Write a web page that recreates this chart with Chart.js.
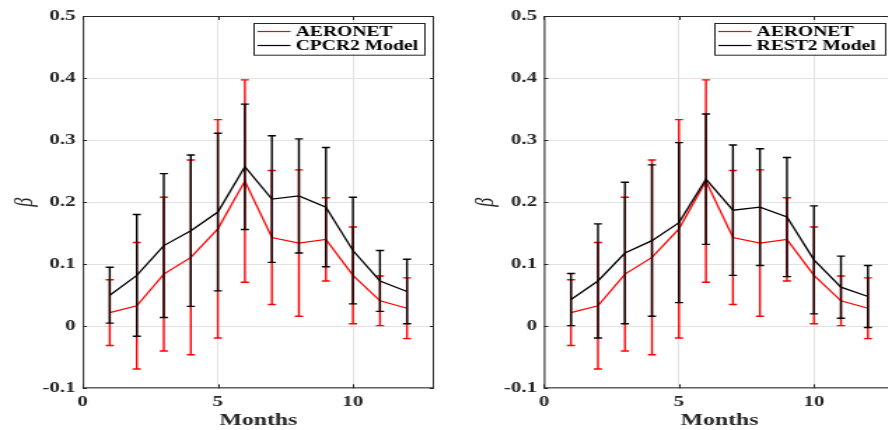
<!DOCTYPE html>
<html>
<head>
<meta charset="utf-8">
<script src="https://cdn.jsdelivr.net/npm/chart.js@4.4.1/dist/chart.umd.min.js"></script>
<style>
  html, body { margin:0; padding:0; width:888px; height:430px; overflow:hidden; background:#fff; }
  .wrap { position:absolute; top:0; height:430px; overflow:hidden; }
  canvas { position:absolute; left:0; top:0; transform-origin:0 0; }
</style>
</head>
<body>
<div class="wrap" style="left:0;width:444px;"><canvas id="c1" width="317" height="430"></canvas></div>
<div class="wrap" style="left:444px;width:444px;"><canvas id="c2" width="330" height="430"></canvas></div>
<script>
// ---- data ----
const months = [1, 2, 3, 4, 5, 6, 7, 8, 9, 10, 11, 12];
const aeronet    = [0.022, 0.033, 0.084, 0.111, 0.157, 0.234, 0.143, 0.134, 0.140, 0.082, 0.041, 0.029];
const aeronetErr = [0.053, 0.102, 0.124, 0.157, 0.176, 0.163, 0.108, 0.118, 0.067, 0.078, 0.040, 0.049];
const cpcr2      = [0.050, 0.082, 0.130, 0.154, 0.184, 0.257, 0.205, 0.210, 0.192, 0.122, 0.073, 0.056];
const cpcr2Err   = [0.045, 0.098, 0.116, 0.122, 0.127, 0.101, 0.102, 0.092, 0.096, 0.086, 0.049, 0.052];
const rest2      = [0.043, 0.073, 0.118, 0.138, 0.167, 0.237, 0.187, 0.192, 0.176, 0.107, 0.063, 0.048];
const rest2Err   = [0.042, 0.092, 0.114, 0.122, 0.129, 0.105, 0.105, 0.094, 0.096, 0.087, 0.050, 0.050];
const xTicks = [0, 5, 10];
const yTicks = [-0.1, 0, 0.1, 0.2, 0.3, 0.4, 0.5];
const xTitle = 'Months';
const yTitle = 'β';
const seriesNames = ['AERONET', 'CPCR2 Model', 'REST2 Model'];

const STRETCH = 1.4;
const FONT = "'Liberation Serif', 'Times New Roman', serif";
const INK = '#262626';
const RED = '#ff0000';
const BLACK = '#000000';

const framePlugin = {
  id: 'frame',
  beforeDatasetDraw(chart, args) {
    const ds = chart.data.datasets[args.index];
    if (!ds.errors) return;
    const xs = chart.scales.x, ys = chart.scales.y, ctx = chart.ctx;
    const cap = 2.9;
    ctx.save();
    ctx.strokeStyle = ds.lineColor;
    ctx.lineWidth = 1.4;
    ds.data.forEach((p, i) => {
      const px = xs.getPixelForValue(p.x);
      const t = ys.getPixelForValue(p.y + ds.errors[i]);
      const b = ys.getPixelForValue(p.y - ds.errors[i]);
      ctx.beginPath();
      ctx.moveTo(px, t); ctx.lineTo(px, b);
      ctx.moveTo(px - cap, t); ctx.lineTo(px + cap, t);
      ctx.moveTo(px - cap, b); ctx.lineTo(px + cap, b);
      ctx.stroke();
    });
    ctx.restore();
  },
  afterDraw(chart) {
    const {ctx, chartArea: a} = chart;
    const xs = chart.scales.x, ys = chart.scales.y;
    ctx.save();
    ctx.strokeStyle = INK;
    ctx.lineWidth = 1;
    ctx.strokeRect(a.left + 0.5, a.top + 0.5, a.right - a.left - 1, a.bottom - a.top - 1);
    ctx.beginPath();
    xTicks.forEach(v => {
      const px = Math.round(xs.getPixelForValue(v)) + 0.5;
      ctx.moveTo(px, a.bottom); ctx.lineTo(px, a.bottom - 4);
      ctx.moveTo(px, a.top); ctx.lineTo(px, a.top + 4);
    });
    yTicks.forEach(v => {
      const py = Math.round(ys.getPixelForValue(v)) + 0.5;
      ctx.moveTo(a.left, py); ctx.lineTo(a.left + 3, py);
      ctx.moveTo(a.right, py); ctx.lineTo(a.right - 3, py);
    });
    ctx.stroke();

    // legend
    const w = 122, h = 31.7;
    const bx = a.right - 7.5 - w, by = a.top + 6.6;
    ctx.fillStyle = '#fff';
    ctx.fillRect(bx, by, w, h);
    ctx.strokeStyle = INK;
    ctx.lineWidth = 1;
    ctx.strokeRect(Math.round(bx) + 0.5, Math.round(by) + 0.5, w, h);
    ctx.font = "bold 14px " + FONT;
    ctx.textBaseline = 'middle';
    ctx.textAlign = 'left';
    chart.data.datasets.forEach((ds, i) => {
      const yy = Math.round(by + 8.7 + i * 14) + 0.5;
      ctx.beginPath();
      ctx.strokeStyle = ds.lineColor;
      ctx.lineWidth = 1.2;
      ctx.moveTo(bx + 3.4, yy);
      ctx.lineTo(bx + 27, yy);
      ctx.stroke();
      ctx.fillStyle = '#000';
      ctx.fillText(ds.label, bx + 30.7, yy + 0.5);
    });
    ctx.restore();
  }
};

function makeChart(id, modelName, model, modelErr, yAxisWidth, padRight, yTitlePad) {
  const cv = document.getElementById(id);
  cv.style.transform = 'scaleX(' + STRETCH + ')';
  const pts = arr => months.map((m, i) => ({x: m, y: arr[i]}));
  return new Chart(cv, {
    type: 'line',
    data: {
      datasets: [
        {label: seriesNames[0], data: pts(aeronet), errors: aeronetErr, lineColor: RED, borderColor: RED,
         borderWidth: 1.3, pointRadius: 0, fill: false, tension: 0, order: 1},
        {label: modelName, data: pts(model), errors: modelErr, lineColor: BLACK, borderColor: BLACK,
         borderWidth: 1.3, pointRadius: 0, fill: false, tension: 0, order: 0}
      ]
    },
    options: {
      responsive: false,
      animation: false,
      layout: {padding: {left: 0, right: padRight, top: 16, bottom: 0}},
      plugins: {legend: {display: false}, tooltip: {enabled: false}},
      scales: {
        x: {
          type: 'linear', min: 0, max: 13,
          afterBuildTicks: s => { s.ticks = xTicks.map(v => ({value: v})); },
          afterFit: s => { s.height = 41.7; },
          grid: {color: '#e2e2e2', drawTicks: false},
          border: {display: false},
          ticks: {padding: 5, maxRotation: 0, color: INK,
                  font: {family: FONT, weight: 'bold', size: 15},
                  callback: v => String(v)},
          title: {display: true, text: xTitle, color: INK,
                  font: {family: FONT, weight: 'bold', size: 17, lineHeight: 1},
                  padding: {top: 0, bottom: 1}}
        },
        y: {
          type: 'linear', min: -0.1, max: 0.5,
          afterBuildTicks: s => { s.ticks = yTicks.map(v => ({value: v})); },
          afterFit: s => { s.width = yAxisWidth; },
          grid: {color: '#e2e2e2', drawTicks: false},
          border: {display: false},
          ticks: {padding: 5, color: INK,
                  font: {family: FONT, weight: 'bold', size: 15},
                  callback: v => String(Math.round(v * 10) / 10)},
          title: {display: true, text: yTitle, color: INK,
                  font: {family: FONT, style: 'italic', size: 18, lineHeight: 1},
                  padding: {top: yTitlePad, bottom: 0}}
        }
      }
    },
    plugins: [framePlugin]
  });
}

makeChart('c1', seriesNames[1], cpcr2, cpcr2Err, 59.1, 7, 9.5);
makeChart('c2', seriesNames[2], rest2, rest2Err, 71.4, 7.9, 21.7);
</script>
</body>
</html>
